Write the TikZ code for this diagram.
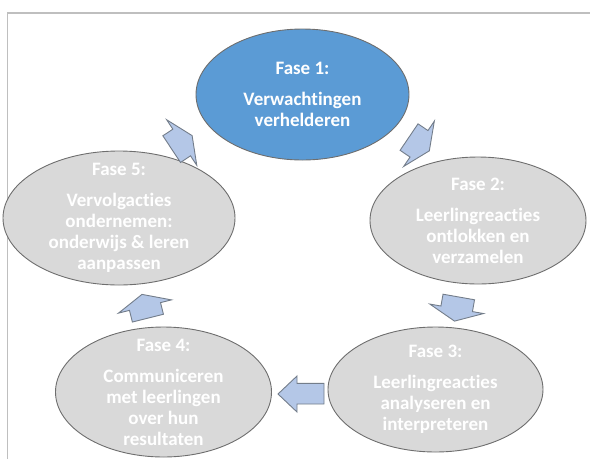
\documentclass[tikz,border=0pt]{standalone}
\usepackage{fontspec}
\setmainfont{Carlito}[Ligatures=CommonOff]
\usetikzlibrary{shapes.geometric}
\definecolor{blueFill}{HTML}{5B9BD5}
\definecolor{grayFill}{HTML}{D9D9D9}
\definecolor{edgeGray}{HTML}{6E6E6E}
\definecolor{arrowFill}{HTML}{B4C7E7}
\definecolor{arrowEdge}{HTML}{737D8A}
\definecolor{frameGray}{HTML}{BFBFBF}
\tikzset{
  phase/.style={ellipse, draw=edgeGray, line width=0.9pt, inner sep=0pt, fill=grayFill},
  phasetext/.style={text=white, font=\fontsize{19}{21}\selectfont\bfseries, align=center, inner sep=0pt},
  blockarrow/.style={fill=arrowFill, draw=arrowEdge, line width=0.9pt, line join=miter},
  pics/blockarr/.style={code={
    \draw[blockarrow] (-12,-16) -- (0,-16) -- (0,-27.3) -- (12.5,0) -- (0,27.3) -- (0,16) -- (-12,16) -- cycle;
  }}
}
\begin{document}
\begin{tikzpicture}[x=1pt,y=-1pt]
\useasboundingbox (0,0) rectangle (590,459);
\draw[frameGray, line width=1.5pt] (7.5,459) -- (7.5,13) -- (590,13);

% ellipses
\node[phase, fill=blueFill, minimum width=213pt, minimum height=131pt] (e1) at (302.5,94.5) {};
\node[phase, minimum width=216pt, minimum height=127pt] (e2) at (478,220.5) {};
\node[phase, minimum width=215pt, minimum height=125pt] (e3) at (435.5,389.5) {};
\node[phase, minimum width=216pt, minimum height=130pt] (e4) at (163.5,392) {};
\node[phase, minimum width=232pt, minimum height=134pt] (e5) at (119,218) {};

% texts
\node[phasetext] (t1) at (e1.center) {Fase 1:\\[10pt]Verwachtingen\\verhelderen};
\node[phasetext] (t2) at (e2.center) {Fase 2:\\[10pt]Leerlingreacties\\ontlokken en\\verzamelen};
\node[phasetext] (t3) at (e3.center) {Fase 3:\\[10pt]Leerlingreacties\\analyseren en\\interpreteren};
\node[phasetext] (t4) at (e4.center) {Fase 4:\\[10pt]Communiceren\\met leerlingen\\over hun\\resultaten};
\node[phasetext] (t5) at (e5.center) {Fase 5:\\[10pt]Vervolgacties\\ondernemen:\\onderwijs \& leren\\aanpassen};

% block arrows
\pic[rotate=33.5] (a51) at (181.7,142.5) {blockarr};
\pic[rotate=-34.1] (a12) at (419,143.8) {blockarr};
\pic[rotate=-100] (a23) at (456.7,308.8) {blockarr};
\pic[rotate=104] (a45) at (145,306.5) {blockarr};
\draw[blockarrow] (324,383.3) -- (297,383.3) -- (297,376) -- (278,394) -- (297,412) -- (297,404) -- (324,404) -- cycle;
\end{tikzpicture}
\end{document}
